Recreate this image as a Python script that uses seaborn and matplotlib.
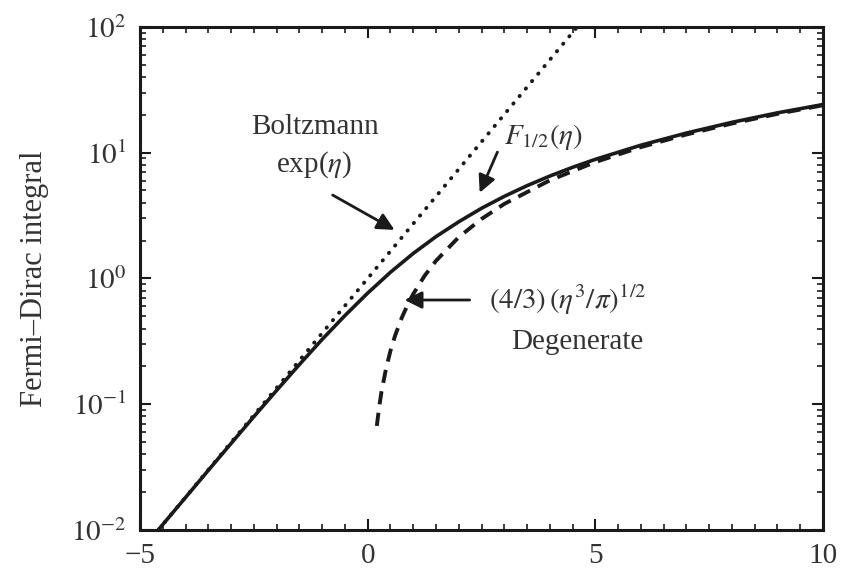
"""Fermi-Dirac integral compared with its Boltzmann and degenerate limits."""

import matplotlib
matplotlib.use("Agg")
import matplotlib.pyplot as plt
import matplotlib.ticker as mticker
import seaborn as sns
import pandas as pd


# values
eta_full = [-5.0, -4.5, -4.0, -3.5, -3.0, -2.5, -2.0, -1.5, -1.0, -0.5,
            0.0, 0.5, 1.0, 1.5, 2.0, 2.5, 3.0, 3.5, 4.0, 4.5,
            5.0, 6.0, 7.0, 8.0, 9.0, 10.0]
f_half = [0.0067, 0.0111, 0.0182, 0.0299, 0.0489, 0.0798, 0.129, 0.207, 0.328, 0.507,
          0.765, 1.12, 1.58, 2.15, 2.82, 3.61, 4.49, 5.46, 6.51, 7.64,
          8.84, 11.45, 14.3, 17.4, 20.7, 24.1]

eta_boltz = [-5.0, -4.0, -3.0, -2.0, -1.0, 0.0, 1.0, 2.0, 3.0, 4.0, 4.6]
boltz = [0.0067, 0.0183, 0.0498, 0.135, 0.368, 1.0, 2.72, 7.39, 20.1, 54.6, 99.5]

eta_degen = [0.2, 0.25, 0.3, 0.4, 0.5, 0.6, 0.75, 0.9, 1.0, 1.25, 1.5,
             2.0, 2.5, 3.0, 4.0, 5.0, 6.0, 7.0, 8.0, 9.0, 10.0]
degen = [0.0673, 0.094, 0.124, 0.190, 0.266, 0.350, 0.489, 0.642, 0.752, 1.05, 1.38,
         2.13, 2.97, 3.91, 6.02, 8.41, 11.06, 13.93, 17.02, 20.31, 23.79]

x_ticks = [-5, 0, 5, 10]
x_tick_labels = ['\u22125', '0', '5', '10']
y_ticks = [1e-2, 1e-1, 1e0, 1e1, 1e2]
y_tick_labels = [r'$10^{-2}$', r'$10^{-1}$', r'$10^{0}$', r'$10^{1}$', r'$10^{2}$']


sns.set_style("ticks")
plt.rcParams['font.family'] = ['Liberation Serif', 'DejaVu Serif']
plt.rcParams['mathtext.fontset'] = 'stix'

fig = plt.figure(figsize=(8.44, 5.70), dpi=100)
ax = fig.add_axes([0.166, 0.070, 0.809, 0.883])

ink = '#1a1a1a'
df_full = pd.DataFrame({'eta': eta_full, 'F': f_half})
df_boltz = pd.DataFrame({'eta': eta_boltz, 'F': boltz})
df_degen = pd.DataFrame({'eta': eta_degen, 'F': degen})

sns.lineplot(data=df_full, x='eta', y='F', ax=ax, color=ink, linewidth=2.6)
sns.lineplot(data=df_boltz, x='eta', y='F', ax=ax, color=ink, linewidth=2.8,
             linestyle=(0, (0.1, 2.4)), dash_capstyle='round')
sns.lineplot(data=df_degen, x='eta', y='F', ax=ax, color=ink, linewidth=2.8,
             linestyle=(0, (3.4, 2.2)))

ax.set_yscale('log')
ax.set_xlim(-5, 10)
ax.set_ylim(1e-2, 1e2)
ax.set_xticks(x_ticks)
ax.set_xticklabels(x_tick_labels)
ax.set_yticks(y_ticks)
ax.set_yticklabels(y_tick_labels)
ax.xaxis.set_minor_locator(mticker.MultipleLocator(0.5))
ax.yaxis.set_minor_locator(mticker.LogLocator(base=10, subs=range(2, 10)))
ax.yaxis.set_minor_formatter(mticker.NullFormatter())
ax.tick_params(which='both', direction='in', top=True, right=True,
               colors=ink, labelcolor='#333333', labelsize=21)
ax.tick_params(axis='x', pad=9)
ax.tick_params(axis='y', pad=10)
ax.tick_params(which='major', length=8, width=1.5)
ax.tick_params(which='minor', length=4.5, width=1.2)
for spine in ax.spines.values():
    spine.set_linewidth(2.2)
    spine.set_color(ink)

ax.set_xlabel('')
ax.set_ylabel('Fermi\u2013Dirac integral', fontsize=22, color='#333333', labelpad=16)

# annotations
txt = dict(fontsize=21, color='#333333')
arrow = dict(arrowstyle='-|>', color=ink, lw=2.0, mutation_scale=26,
             shrinkA=0, shrinkB=0)
ax.text(-1.16, 16.0, 'Boltzmann', ha='center', va='center', **txt)
ax.text(-1.18, 8.0, r'exp($\eta$)', ha='center', va='center', **txt)
ax.annotate('', xy=(0.59, 2.43), xytext=(-0.77, 4.6), arrowprops=arrow)

ax.text(3.0, 13.3, r'$F_{1/2}(\eta)$', ha='left', va='center', **txt)
ax.annotate('', xy=(2.46, 4.8), xytext=(2.85, 10.1), arrowprops=arrow)

ax.text(2.67, 0.674, r'$(4/3)\,(\eta^3/\pi)^{1/2}$', ha='left', va='center', **txt)
ax.text(4.60, 0.313, 'Degenerate', ha='center', va='center', **txt)
ax.annotate('', xy=(0.81, 0.674), xytext=(2.24, 0.674), arrowprops=arrow)

fig.savefig('out.png', dpi=100)
